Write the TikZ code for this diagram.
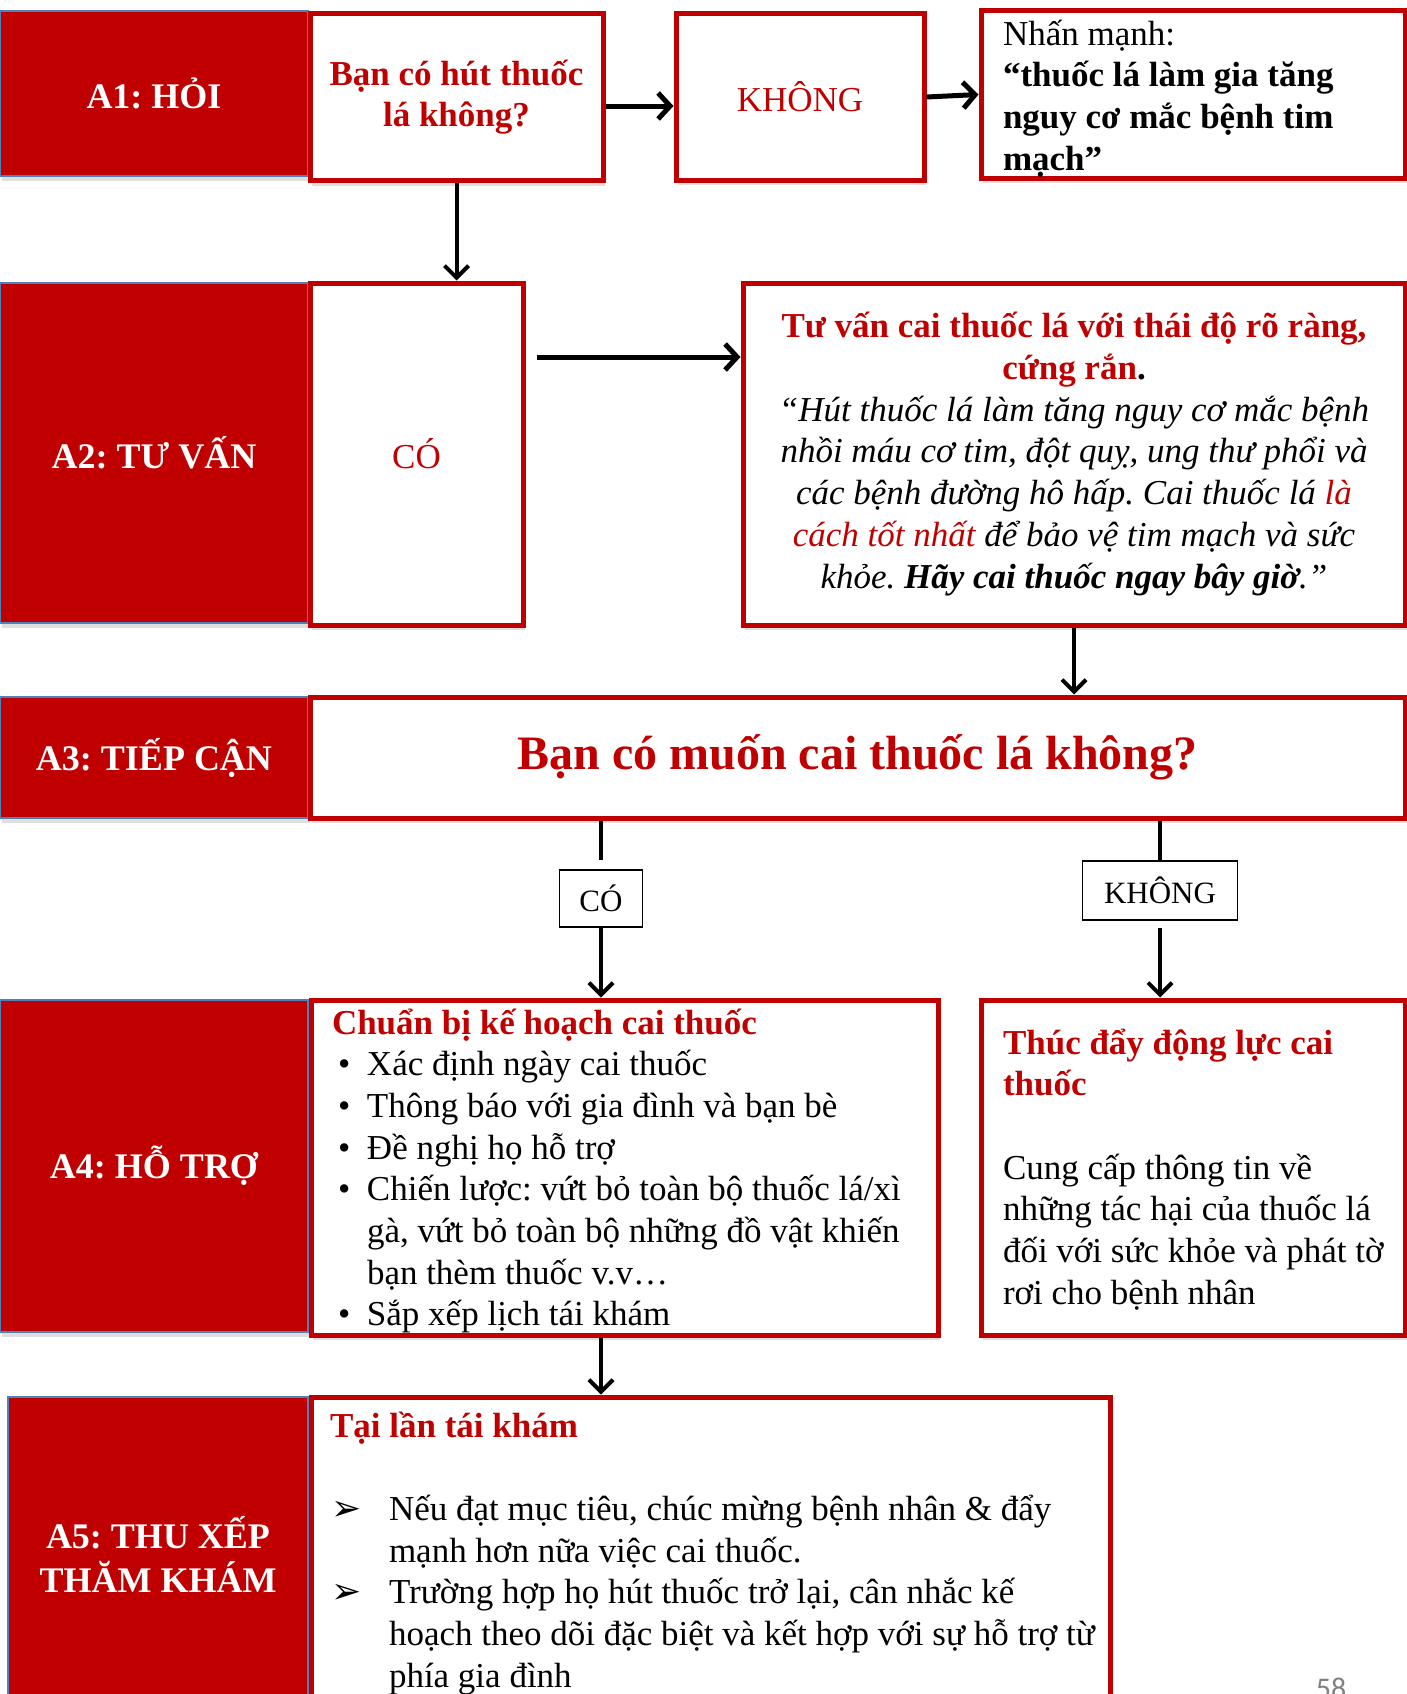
\documentclass[tikz,border=0pt]{standalone}
\usepackage{fontspec}
\setmainfont{Liberation Serif}
\newfontfamily\symfont{DejaVu Sans}
\newfontfamily\numfont{Carlito}
\usetikzlibrary{arrows.meta,calc,positioning,shadows}
\frenchspacing

\definecolor{darkred}{HTML}{C00000}
\definecolor{edgeblue}{HTML}{4F81BD}

\newcommand{\bodysize}{\fontsize{35}{41.7}\selectfont}
% text block of a box: width, height, left pad, first baseline, text
\newcommand{\boxtext}[5]{\parbox[c][#2][t]{#1}{\raggedright\leftskip=#3\relax\noindent\rule{0pt}{#4}#5\par}}
\newcommand{\bul}[1]{\par\noindent\hangindent=35pt\hangafter=1\makebox[35pt][l]{\hspace{6pt}•}#1}
\newcommand{\arrbul}[1]{\par\noindent\hangindent=59pt\hangafter=1\makebox[59pt][l]{\hspace{1pt}{\symfont\fontsize{36}{40}\selectfont ➢}}#1}

\begin{document}
\begin{tikzpicture}[x=1pt, y=-1pt,
  lbl/.style={fill=darkred, draw=edgeblue, line width=1.5pt, text=white, align=center, inner sep=0pt,
    font=\fontsize{36}{44}\selectfont\bfseries, drop shadow={opacity=0.25, shadow xshift=2pt, shadow yshift=-5pt}},
  rbox/.style={draw=darkred, line width=5pt, fill=white, inner sep=0pt, align=center, font=\bodysize,
    drop shadow={opacity=0.25, shadow xshift=2pt, shadow yshift=-5pt}},
  tag/.style={draw=black, line width=1.5pt, fill=white, inner sep=0pt, font=\fontsize{31}{36}\selectfont},
  thickarrow/.style={line width=5pt, -{Straight Barb[length=12pt, width=26pt]}},
  thinarrow/.style={line width=4pt, -{Straight Barb[length=12pt, width=24pt]}},
  stem/.style={line width=3.5pt}]
  \useasboundingbox (0,0) rectangle (1407,1694);

  % A1
  \node[lbl, minimum width=308pt, minimum height=165pt] (ask) at (154,93.5) {A1: HỎI};
  \node[rbox, text=darkred, font=\bodysize\bfseries, minimum width=293pt, minimum height=167pt] (smoke) at (456.5,97) {Bạn có hút thuốc\\lá không?};
  \node[rbox, text=darkred, minimum width=248pt, minimum height=166pt] (nosmoke) at (800,97) {KHÔNG};
  \node[rbox] (stress) at (1193,94.5) {\boxtext{424pt}{167pt}{22pt}{34pt}{Nhấn mạnh:\newline
    \textbf{“thuốc lá làm gia tăng\newline nguy cơ mắc bệnh tim\newline mạch”}}};

  % A2
  \node[lbl, minimum width=308pt, minimum height=340pt] (advise) at (154,453) {A2: TƯ VẤN};
  \node[rbox, text=darkred, minimum width=213pt, minimum height=342pt] (yessmoke) at (416.5,454) {CÓ};
  \node[rbox, minimum width=662pt, minimum height=342pt] (counsel) at (1074,454) {%
    \textcolor{darkred}{\textbf{Tư vấn cai thuốc lá với thái độ rõ ràng,}}\\
    \textbf{\textcolor{darkred}{cứng rắn}.}\\
    \textit{“Hút thuốc lá làm tăng nguy cơ mắc bệnh}\\
    \textit{nhồi máu cơ tim, đột quỵ, ung thư phổi và}\\
    \textit{các bệnh đường hô hấp. Cai thuốc lá \textcolor{darkred}{là}}\\
    \textit{\textcolor{darkred}{cách tốt nhất} để bảo vệ tim mạch và sức}\\
    \textit{khỏe. \textbf{Hãy cai thuốc ngay bây giờ}.”}};

  % A3
  \node[lbl, minimum width=308pt, minimum height=121pt] (assess) at (154,757.5) {A3: TIẾP CẬN};
  \node[rbox, text=darkred, font=\fontsize{48}{56}\selectfont\bfseries, minimum width=1095pt, minimum height=121pt] (quit) at (857.5,757.5) {Bạn có muốn cai thuốc lá không?};
  \node[tag, minimum width=83pt, minimum height=57pt] (yesquit) at (601,898.5) {CÓ};
  \node[tag, minimum width=155pt, minimum height=59pt] (noquit) at (1160,890.5) {KHÔNG};

  % A4
  \node[lbl, minimum width=308pt, minimum height=332pt] (assist) at (154,1166) {A4: HỖ TRỢ};
  \node[rbox] (plan) at (624.5,1167.5) {\boxtext{627pt}{335pt}{21pt}{34pt}{%
    \textcolor{darkred}{\textbf{Chuẩn bị kế hoạch cai thuốc}}%
    \bul{Xác định ngày cai thuốc}%
    \bul{Thông báo với gia đình và bạn bè}%
    \bul{Đề nghị họ hỗ trợ}%
    \bul{Chiến lược: vứt bỏ toàn bộ thuốc lá/xì\newline gà, vứt bỏ toàn bộ những đồ vật khiến\newline bạn thèm thuốc v.v…}%
    \bul{Sắp xếp lịch tái khám}}};
  \node[rbox] (motivate) at (1193,1167.5) {\boxtext{424pt}{335pt}{22pt}{54pt}{%
    \textcolor{darkred}{\textbf{Thúc đẩy động lực cai\newline thuốc}}\par\vspace{41.7pt}%
    \noindent Cung cấp thông tin về\newline những tác hại của thuốc lá\newline đối với sức khỏe và phát tờ\newline rơi cho bệnh nhân}};

  % A5
  \node[lbl, minimum width=300pt, minimum height=315pt] (arrange) at (158,1554.5) {A5: THU XẾP\\THĂM KHÁM};
  \node[rbox] (followup) at (710.5,1554.5) {\boxtext{799pt}{315pt}{19pt}{40pt}{%
    \textcolor{darkred}{\textbf{Tại lần tái khám}}\par\vspace{41.7pt}%
    \arrbul{Nếu đạt mục tiêu, chúc mừng bệnh nhân \& đẩy\newline mạnh hơn nữa việc cai thuốc.}%
    \arrbul{Trường hợp họ hút thuốc trở lại, cân nhắc kế\newline hoạch theo dõi đặc biệt và kết hợp với sự hỗ trợ từ\newline phía gia đình}}};

  \node[font=\numfont\fontsize{30}{36}\selectfont, text=gray, anchor=north, inner sep=0pt] (pagenum) at (1331,1678) {58};

  % connectors
  \coordinate (counselin) at ([xshift=11pt, yshift=97pt]yessmoke.east);
  \draw[thickarrow] ([yshift=-9pt]smoke.east) -- ([yshift=-9pt]nosmoke.west);
  \draw[thickarrow] (nosmoke.east) -- (stress.west);
  \draw[thinarrow] (smoke.south) -- (smoke.south |- yessmoke.north);
  \draw[thickarrow] (counselin) -- (counselin -| counsel.west);
  \draw[thinarrow] (counsel.south) -- (counsel.south |- quit.north);
  \draw[stem, shorten >=9pt] (quit.south -| yesquit) -- (yesquit.north);
  \draw[thinarrow] (yesquit.south) -- (yesquit.south |- plan.north);
  \draw[stem] (quit.south -| noquit) -- (noquit.north);
  \draw[thinarrow, shorten <=7pt] (noquit.south) -- (noquit.south |- motivate.north);
  \draw[thinarrow] (yesquit |- plan.south) -- (yesquit |- followup.north);
\end{tikzpicture}
\end{document}
